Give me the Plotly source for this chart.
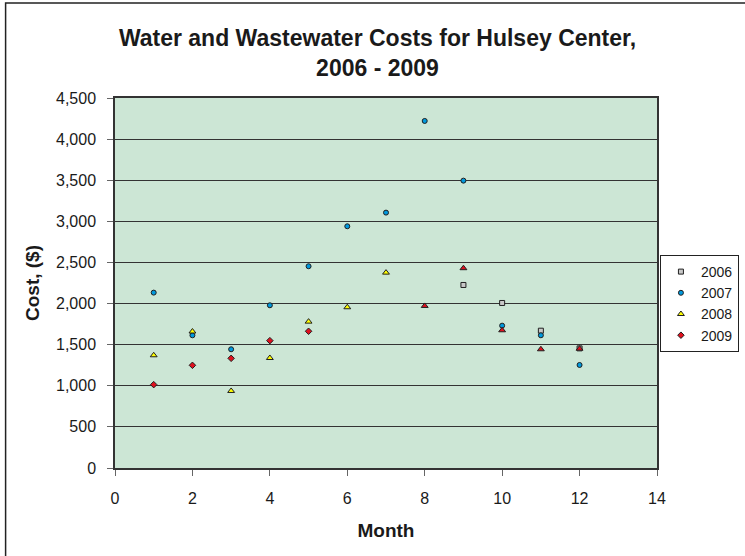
import plotly.graph_objects as go

months_2006 = [9, 10, 11, 12]
cost_2006 = [2226, 2007, 1670, 1455]

months_2007 = [1, 2, 3, 4, 5, 6, 7, 8, 9, 10, 11, 12]
cost_2007 = [2133, 1614, 1444, 1979, 2454, 2940, 3106, 4221, 3495, 1731, 1614, 1253]

months_2008 = [1, 2, 3, 4, 5, 6, 7]
cost_2008 = [1371, 1660, 937, 1338, 1780, 1955, 2376]

months_2008b = [8, 9, 10, 11, 12]
cost_2008b = [1971, 2430, 1675, 1444, 1451]

months_2009 = [1, 2, 3, 4, 5]
cost_2009 = [1014, 1249, 1334, 1549, 1663]

x_ticks = [0, 2, 4, 6, 8, 10, 12, 14]
y_ticks = [0, 500, 1000, 1500, 2000, 2500, 3000, 3500, 4000, 4500]

FONT = "Liberation Sans, Arial, sans-serif"
outline = dict(color="#202020", width=1)

W, H = 745, 556
L, T, R, B = 114.5, 98, 657, 468
pw, ph = R - L, B - T


def px(x):
    return (x - L) / pw


def py(y):
    return (B - y) / ph


fig = go.Figure()
fig.add_trace(go.Scatter(x=months_2006, y=cost_2006, mode="markers", name="2006",
                         marker=dict(symbol="square", size=5, color="#c8c8c8", line=outline)))
fig.add_trace(go.Scatter(x=months_2007, y=cost_2007, mode="markers", name="2007",
                         marker=dict(symbol="circle", size=5, color="#0099dd", line=outline)))
fig.add_trace(go.Scatter(x=months_2008, y=cost_2008, mode="markers", name="2008",
                         marker=dict(symbol="triangle-up", size=6, color="#ffff00", line=outline)))
fig.add_trace(go.Scatter(x=months_2009, y=cost_2009, mode="markers", name="2009",
                         marker=dict(symbol="diamond", size=5, color="#e0101e", line=outline)))
fig.add_trace(go.Scatter(x=months_2008b, y=cost_2008b, mode="markers", name="2008",
                         showlegend=False,
                         marker=dict(symbol="triangle-up", size=6, color="#e0101e", line=outline)))

fig.update_layout(
    width=W, height=H,
    margin=dict(l=L, r=W - R, t=T, b=H - B, autoexpand=False),
    paper_bgcolor="white",
    plot_bgcolor="#cce6d5",
    font=dict(family=FONT, size=16, color="#1a1a1a"),
    title=dict(text="<b>Water and Wastewater Costs for Hulsey Center,<br>2006 - 2009</b>",
               x=377.5 / W, xanchor="center", y=1 - 46 / H, yanchor="middle",
               font=dict(family=FONT, size=23, color="#1a1a1a")),
    xaxis=dict(range=[0, 14], tickvals=x_ticks, showgrid=False,
               automargin=False,
               zeroline=False, showline=True, linecolor="#333333", linewidth=1.5, mirror=True,
               ticks="outside", ticklen=6, tickcolor="#666666", ticklabelstandoff=9,
               title=dict(text="<b>Month</b>", font=dict(family=FONT, size=19), standoff=18)),
    yaxis=dict(range=[0, 4500], tickvals=y_ticks,
               automargin=False,
               tickformat=",d", showgrid=True, gridcolor="#333333", gridwidth=1,
               zeroline=False, showline=True, linecolor="#333333", linewidth=1.5, mirror=True,
               ticks="outside", ticklen=6, tickcolor="#666666", ticklabelstandoff=8,
               title=dict(text="<b>Cost, ($)</b>", font=dict(family=FONT, size=19), standoff=11)),
    legend=dict(x=px(739), y=py(255), xanchor="right", yanchor="top",
                bgcolor="white", bordercolor="#222222", borderwidth=1,
                font=dict(family=FONT, size=14), itemwidth=30, tracegroupgap=0),
    shapes=[dict(type="rect", xref="paper", yref="paper",
                 x0=px(5), x1=px(770), y0=py(580), y1=py(3),
                 line=dict(color="#222222", width=1.5), fillcolor="rgba(0,0,0,0)", layer="below")],
)

fig.write_html("out.html", config={"displayModeBar": False},
               post_script="document.body.style.margin='0';")
